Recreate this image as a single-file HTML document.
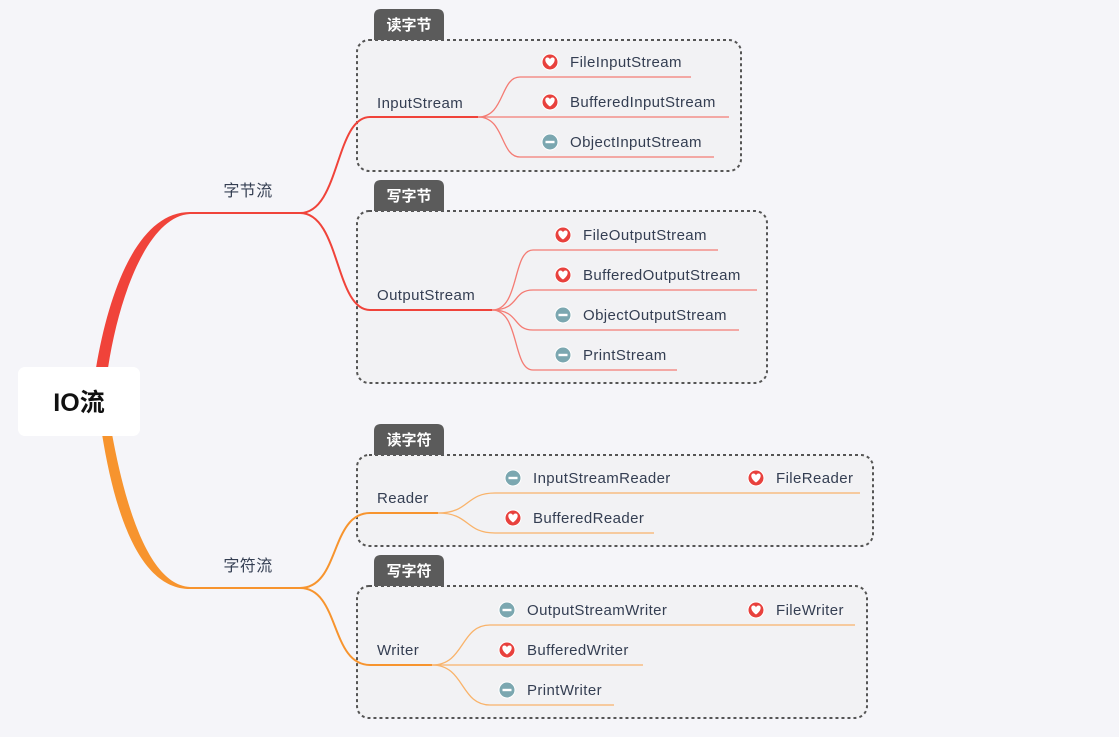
<!DOCTYPE html>
<html><head><meta charset="utf-8"><style>
html,body{margin:0;padding:0;background:#f5f5f9;}
svg{display:block}
text{font-family:"Liberation Sans","Noto Sans CJK SC",sans-serif;fill:#343e52;font-size:15px;letter-spacing:0.4px}
.tab{fill:#fff;font-weight:bold;font-size:15px;letter-spacing:0}
</style></head><body>
<svg width="1119" height="737" viewBox="0 0 1119 737" xmlns="http://www.w3.org/2000/svg">
<defs>
<g id="h"><circle r="8" fill="#e8413d" stroke="#fff" stroke-width="1"/><path d="M0,4.5 C-6,0.5 -5.5,-4.5 -2.6,-4.5 C-1.2,-4.5 -0.3,-3.6 0,-2.6 C0.3,-3.6 1.2,-4.5 2.6,-4.5 C5.5,-4.5 6,0.5 0,4.5Z" fill="#fff"/></g>
<g id="m"><circle r="8" fill="#7ba7b0" stroke="#fff" stroke-width="1"/><rect x="-4.5" y="-1.2" width="9" height="2.4" fill="#fff"/></g>
</defs>
<rect width="1119" height="737" fill="#f5f5f9"/>

<path d="M96,368 C110,285 140,212 190,212 L190,214 C150,216 120,290 108,368Z" fill="#f0433a"/>
<path d="M190,213 L300,213" stroke="#f0433a" stroke-width="2" fill="none"/>
<path d="M102,434 C115,515 140,589 190,589 L190,587 C150,585 126,510 112,434Z" fill="#f7942e"/>
<path d="M190,588 L300,588" stroke="#f7942e" stroke-width="2" fill="none"/>

<rect x="357" y="40" width="384" height="131" rx="12" fill="#f2f2f4" stroke="#555" stroke-width="2" stroke-dasharray="3,3"/>
<rect x="357" y="211" width="410" height="172" rx="12" fill="#f2f2f4" stroke="#555" stroke-width="2" stroke-dasharray="3,3"/>
<rect x="357" y="455" width="516" height="91" rx="12" fill="#f2f2f4" stroke="#555" stroke-width="2" stroke-dasharray="3,3"/>
<rect x="357" y="586" width="510" height="132" rx="12" fill="#f2f2f4" stroke="#555" stroke-width="2" stroke-dasharray="3,3"/>

<path d="M374,40 V16 Q374,9 381,9 H437 Q444,9 444,16 V40Z" fill="#5b5b5b"/>
<path d="M374,211 V187 Q374,180 381,180 H437 Q444,180 444,187 V211Z" fill="#5b5b5b"/>
<path d="M374,455 V431 Q374,424 381,424 H437 Q444,424 444,431 V455Z" fill="#5b5b5b"/>
<path d="M374,586 V562 Q374,555 381,555 H437 Q444,555 444,562 V586Z" fill="#5b5b5b"/>
<text class="tab" x="409" y="30" text-anchor="middle">读字节</text>
<text class="tab" x="409" y="201" text-anchor="middle">写字节</text>
<text class="tab" x="409" y="445" text-anchor="middle">读字符</text>
<text class="tab" x="409" y="576" text-anchor="middle">写字符</text>

<path d="M300,213 C340,213 335,117 370,117 L478,117" stroke="#f0433a" stroke-width="2" fill="none"/>
<path d="M300,213 C340,213 335,310 370,310 L492,310" stroke="#f0433a" stroke-width="2" fill="none"/>
<path d="M300,588 C340,588 330,513 370,513 L438,513" stroke="#f7942e" stroke-width="2" fill="none"/>
<path d="M300,588 C340,588 330,665 370,665 L432,665" stroke="#f7942e" stroke-width="2" fill="none"/>

<g stroke="#f47b73" stroke-width="1.3" fill="none">
<path d="M478,117 C505,117 500,77 520,77 H691"/>
<path d="M478,117 H729"/>
<path d="M478,117 C505,117 500,157 520,157 H714"/>
<path d="M492,310 C520,310 512,250 533,250 H718"/>
<path d="M492,310 C520,310 512,290 533,290 H757"/>
<path d="M492,310 C520,310 512,330 533,330 H739"/>
<path d="M492,310 C520,310 512,370 533,370 H677"/>
</g>
<g stroke="#f9b36a" stroke-width="1.3" fill="none">
<path d="M438,513 C470,513 465,493 495,493 H860"/>
<path d="M438,513 C470,513 465,533 495,533 H654"/>
<path d="M432,665 C465,665 460,625 490,625 H855"/>
<path d="M432,665 H643"/>
<path d="M432,665 C465,665 460,705 490,705 H614"/>
</g>

<rect x="18" y="367" width="122" height="69" rx="7" fill="#fff"/>
<text x="79" y="411" text-anchor="middle" style="font-size:25px;font-weight:bold;fill:#111;letter-spacing:0">IO流</text>

<text x="248" y="196" text-anchor="middle" style="font-size:16px">字节流</text>
<text x="248" y="571" text-anchor="middle" style="font-size:16px">字符流</text>

<text x="377" y="108">InputStream</text>
<text x="377" y="300">OutputStream</text>
<text x="377" y="503">Reader</text>
<text x="377" y="655">Writer</text>

<use href="#h" x="550" y="62"/><text x="570" y="67">FileInputStream</text>
<use href="#h" x="550" y="102"/><text x="570" y="107">BufferedInputStream</text>
<use href="#m" x="550" y="142"/><text x="570" y="147">ObjectInputStream</text>

<use href="#h" x="563" y="235"/><text x="583" y="240">FileOutputStream</text>
<use href="#h" x="563" y="275"/><text x="583" y="280">BufferedOutputStream</text>
<use href="#m" x="563" y="315"/><text x="583" y="320">ObjectOutputStream</text>
<use href="#m" x="563" y="355"/><text x="583" y="360">PrintStream</text>

<use href="#m" x="513" y="478"/><text x="533" y="483">InputStreamReader</text>
<use href="#h" x="756" y="478"/><text x="776" y="483">FileReader</text>
<use href="#h" x="513" y="518"/><text x="533" y="523">BufferedReader</text>

<use href="#m" x="507" y="610"/><text x="527" y="615">OutputStreamWriter</text>
<use href="#h" x="756" y="610"/><text x="776" y="615">FileWriter</text>
<use href="#h" x="507" y="650"/><text x="527" y="655">BufferedWriter</text>
<use href="#m" x="507" y="690"/><text x="527" y="695">PrintWriter</text>
</svg>
</body></html>
